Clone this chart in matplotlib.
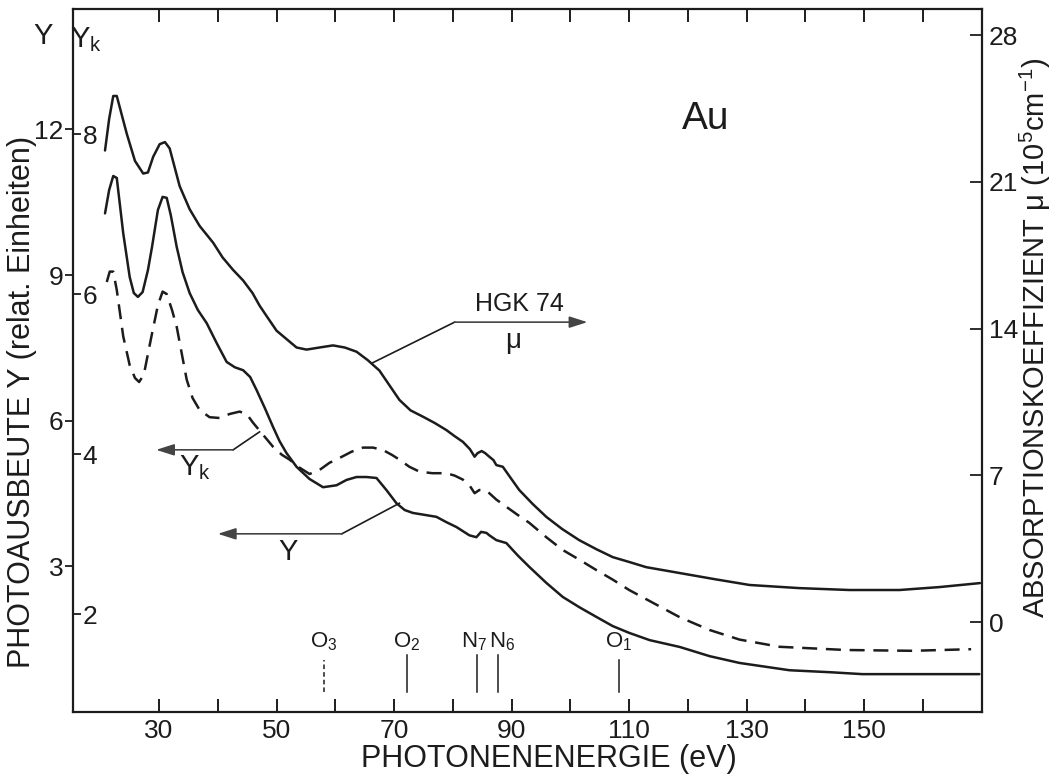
import matplotlib
matplotlib.use("Agg")
import matplotlib.pyplot as plt
from matplotlib.ticker import FixedLocator, NullFormatter

# ---------------- data ----------------
# absorption coefficient mu (10^5 cm^-1), right axis
mu_energy = [20.8, 21.5, 22.2, 22.8, 24.5, 25.9, 27.3, 28.1, 29.0, 30.1, 31.0, 31.8,
             33.5, 35.2, 36.9, 39.2, 40.8, 42.6, 44.3, 45.9, 47.1, 48.3, 50.0, 51.7,
             53.4, 55.1, 57.3, 59.6, 61.6, 63.6, 65.5, 67.5, 69.2, 70.9, 72.8, 74.9,
             76.9, 78.9, 80.3, 81.7, 82.9, 83.7, 84.2, 84.9, 85.5, 86.2, 86.9, 87.4,
             88.5, 89.6, 91.3, 93.6, 95.9, 98.6, 101.5, 104.4, 107.2, 110.1, 112.9,
             118.6, 124.5, 130.5, 139.0, 147.5, 156.0, 162.8, 169.7]
mu_value = [22.5, 24.0, 25.1, 25.1, 23.3, 22.0, 21.4, 21.45, 22.2, 22.8, 22.9, 22.6,
            20.8, 19.7, 18.9, 18.1, 17.4, 16.8, 16.3, 15.7, 15.1, 14.6, 13.9, 13.5,
            13.1, 13.0, 13.1, 13.2, 13.1, 12.9, 12.5, 12.0, 11.3, 10.6, 10.1, 9.8,
            9.5, 9.16, 8.87, 8.6, 8.25, 7.89, 8.06, 8.16, 8.06, 7.89, 7.73, 7.49,
            7.41, 6.97, 6.30, 5.63, 5.02, 4.44, 3.91, 3.48, 3.10, 2.86, 2.62,
            2.34, 2.05, 1.77, 1.62, 1.53, 1.53, 1.67, 1.86]

# photo yield Y (relative units), left axis
y_energy = [20.8, 21.5, 22.2, 22.8, 23.9, 25.0, 25.7, 26.4, 27.2, 28.1, 28.8, 29.8,
            30.6, 31.3, 32.0, 33.0, 34.0, 35.2, 36.6, 38.1, 39.8, 41.5, 42.9, 44.3,
            45.5, 46.6, 48.0, 49.4, 50.5, 51.7, 53.4, 55.6, 57.9, 60.2, 61.9, 63.6,
            65.3, 67.0, 68.7, 70.4, 71.8, 73.2, 75.2, 77.2, 78.9, 80.6, 81.9, 82.8,
            84.0, 84.8, 85.7, 86.2, 87.4, 89.1, 91.0, 93.0, 95.9, 98.7, 101.5, 104.4,
            107.2, 110.0, 113.5, 118.6, 123.7, 128.8, 137.3, 144.1, 149.7, 159.4, 169.6]
y_value = [10.27, 10.75, 11.04, 11.0, 9.86, 8.96, 8.63, 8.55, 8.65, 9.10, 9.58, 10.34,
           10.61, 10.59, 10.23, 9.58, 9.06, 8.63, 8.28, 8.01, 7.60, 7.21, 7.10, 7.04,
           6.90, 6.63, 6.26, 5.87, 5.58, 5.33, 5.05, 4.80, 4.63, 4.67, 4.78, 4.84,
           4.84, 4.82, 4.57, 4.30, 4.16, 4.10, 4.06, 4.02, 3.91, 3.81, 3.71, 3.64,
           3.60, 3.71, 3.69, 3.64, 3.54, 3.48, 3.23, 2.99, 2.66, 2.37, 2.16, 1.96,
           1.77, 1.63, 1.48, 1.34, 1.15, 1.01, 0.86, 0.82, 0.78, 0.78, 0.78]

# photo yield Y_k, inner left axis (dashed)
yk_energy = [21.1, 21.6, 22.2, 22.8, 23.9, 25.0, 25.9, 26.6, 27.4, 28.7, 29.8, 30.6,
             31.3, 32.2, 33.0, 33.9, 34.7, 35.7, 36.9, 38.6, 40.3, 42.0, 43.7, 44.9,
             46.0, 47.7, 49.4, 50.9, 52.2, 53.9, 55.6, 57.3, 59.0, 60.7, 62.8, 64.7,
             66.4, 68.1, 69.6, 70.9, 72.6, 74.3, 76.5, 78.9, 80.3, 81.7, 82.9, 83.7,
             84.5, 85.4, 86.2, 87.4, 89.1, 91.0, 93.0, 95.9, 98.7, 101.5, 104.4, 107.2,
             110.0, 114.3, 118.6, 123.7, 128.8, 135.6, 146.9, 158.2, 168.2]
yk_value = [6.15, 6.28, 6.28, 6.05, 5.47, 5.11, 4.95, 4.90, 4.99, 5.47, 5.86, 6.03,
            6.00, 5.80, 5.59, 5.24, 4.93, 4.70, 4.55, 4.46, 4.45, 4.50, 4.53, 4.50,
            4.39, 4.24, 4.09, 3.99, 3.93, 3.83, 3.75, 3.80, 3.89, 3.95, 4.03, 4.08,
            4.08, 4.05, 3.99, 3.93, 3.84, 3.78, 3.76, 3.76, 3.73, 3.68, 3.60, 3.51,
            3.55, 3.55, 3.51, 3.43, 3.34, 3.24, 3.14, 2.96, 2.80, 2.68, 2.55, 2.43,
            2.30, 2.13, 1.96, 1.80, 1.68, 1.59, 1.55, 1.54, 1.56]

# absorption edges
edge_names = ["O$_3$", "O$_2$", "N$_7$", "N$_6$", "O$_1$"]
edge_energy = [58.0, 72.2, 84.1, 87.7, 108.2]

x_labeled = [30, 50, 70, 90, 110, 130, 150]
x_minor = [40, 60, 80, 100, 120, 140, 160]
y_ticks = [3, 6, 9, 12]
yk_ticks = [2, 4, 6, 8]
mu_ticks = [0, 7, 14, 21, 28]

# ---------------- styling ----------------
FAM = ["Liberation Sans", "DejaVu Sans"]
plt.rcParams["font.family"] = FAM
plt.rcParams["mathtext.fontset"] = "custom"
plt.rcParams["mathtext.rm"] = "Liberation Sans"
plt.rcParams["mathtext.it"] = "Liberation Sans"
INK = "#1c1c1c"

W, H = 1051, 776
fig = plt.figure(figsize=(W / 100, H / 100), dpi=100)
L, R, B, T = 72.7, 981.7, 712, 9
ax = fig.add_axes([L / W, 1 - B / H, (R - L) / W, (B - T) / H])
ax_mu = ax.twinx()
ax_k = ax.twinx()

ax.set_xlim(15.3, 170)
ax.set_ylim(0, 14.48)
ax_mu.set_ylim(-4.29, 29.25)
ax_k.set_ylim(0.775, 9.5625)

for a in (ax_mu, ax_k):
    for s in a.spines.values():
        s.set_visible(False)
    a.patch.set_visible(False)
for s in ax.spines.values():
    s.set_linewidth(1.6)
    s.set_color(INK)

# x ticks
ax.xaxis.set_major_locator(FixedLocator(x_labeled))
ax.xaxis.set_minor_locator(FixedLocator(x_minor))
ax.xaxis.set_minor_formatter(NullFormatter())
ax.tick_params(axis="x", which="both", direction="in", length=9.5, width=1.4,
               top=True, bottom=True, pad=5, labelsize=19, colors=INK)

# Y ticks (left, outward)
ax.yaxis.set_major_locator(FixedLocator(y_ticks))
ax.tick_params(axis="y", which="major", direction="out", length=5.5, width=1.3,
               pad=1, labelsize=19, colors=INK, left=True, right=False)

# Y_k ticks (left, inward, labels inside)
ax_k.yaxis.set_ticks_position("left")
ax_k.yaxis.set_label_position("left")
ax_k.yaxis.set_major_locator(FixedLocator(yk_ticks))
ax_k.tick_params(axis="y", direction="in", length=5.5, width=1.3, pad=-7,
                 labelsize=19, colors=INK, left=True, right=False,
                 labelleft=True, labelright=False)
for lbl in ax_k.get_yticklabels():
    lbl.set_horizontalalignment("left")

# mu ticks (right, inward)
ax_mu.yaxis.set_major_locator(FixedLocator(mu_ticks))
ax_mu.tick_params(axis="y", direction="in", length=9, width=1.3, pad=5,
                  labelsize=19, colors=INK)

# ---------------- curves ----------------
ax_mu.plot(mu_energy, mu_value, color=INK, lw=1.8, solid_joinstyle="round",
           solid_capstyle="round")
ax.plot(y_energy, y_value, color=INK, lw=1.8, solid_joinstyle="round",
        solid_capstyle="round")
ax_k.plot(yk_energy, yk_value, color=INK, lw=1.8, linestyle=(0, (6, 3.5)))

# ---------------- edge markers ----------------
for name, e in zip(edge_names, edge_energy):
    top = 1.07 if name in ("O$_3$", "O$_1$") else 1.17
    ls = (0, (3, 2)) if name == "O$_3$" else "-"
    ax.plot([e, e], [0.41, top], color=INK, lw=1.1, linestyle=ls)
    dx = -0.5 if name == "N$_7$" else (0.6 if name == "N$_6$" else 0)
    ax.text(e + dx, 1.22, name, ha="center", va="bottom", fontsize=16, color=INK)

# ---------------- annotations ----------------
arrow_kw = dict(arrowstyle="-|>,head_length=1.1,head_width=0.35", color="#444444",
                lw=1.2, shrinkA=0, shrinkB=0)
# HGK 74 / mu
ax.plot([66.3, 80.3], [7.19, 8.03], color=INK, lw=1.2)
ax.annotate("", xy=(102.9, 8.03), xytext=(80.3, 8.03), arrowprops=arrow_kw)
ax.text(91.3, 8.40, "HGK 74", ha="center", va="center", fontsize=18, color=INK)
ax.text(90.2, 7.64, "μ", ha="center", va="center", fontsize=20, color=INK)
# Y_k
ax.plot([42.6, 47.1], [5.40, 5.77], color=INK, lw=1.2)
ax.annotate("", xy=(29.5, 5.40), xytext=(42.6, 5.40), arrowprops=arrow_kw)
ax.text(36.1, 5.03, "Y$_\\mathregular{k}$", ha="center", va="center", fontsize=21,
        color=INK)
# Y
ax.plot([61.1, 70.9], [3.67, 4.30], color=INK, lw=1.2)
ax.annotate("", xy=(40.0, 3.67), xytext=(61.1, 3.67), arrowprops=arrow_kw)
ax.text(51.9, 3.30, "Y", ha="center", va="center", fontsize=21, color=INK)

# sample label
fig.text(706 / W, 1 - 119 / H, "Au", fontsize=28, ha="center", va="center",
         color=INK)

# ---------------- axis titles ----------------
fig.text(549 / W, 1 - 759 / H, "PHOTONENENERGIE (eV)", ha="center", va="center",
         fontsize=22, color=INK)
fig.text(22 / W, 1 - 402 / H, "PHOTOAUSBEUTE Y (relat. Einheiten)", rotation=90,
         ha="center", va="center", fontsize=22, color=INK)
fig.text(1035 / W, 1 - 338 / H,
         "ABSORPTIONSKOEFFIZIENT μ (10$^\\mathregular{5}$cm$^\\mathregular{-1}$)",
         rotation=90, ha="center", va="center", fontsize=21, color=INK)
fig.text(43 / W, 1 - 36 / H, "Y", ha="center", va="center", fontsize=21, color=INK)
fig.text(86 / W, 1 - 40 / H, "Y$_\\mathregular{k}$", ha="center", va="center",
         fontsize=21, color=INK)

fig.savefig("out.png", dpi=100, facecolor="white")
